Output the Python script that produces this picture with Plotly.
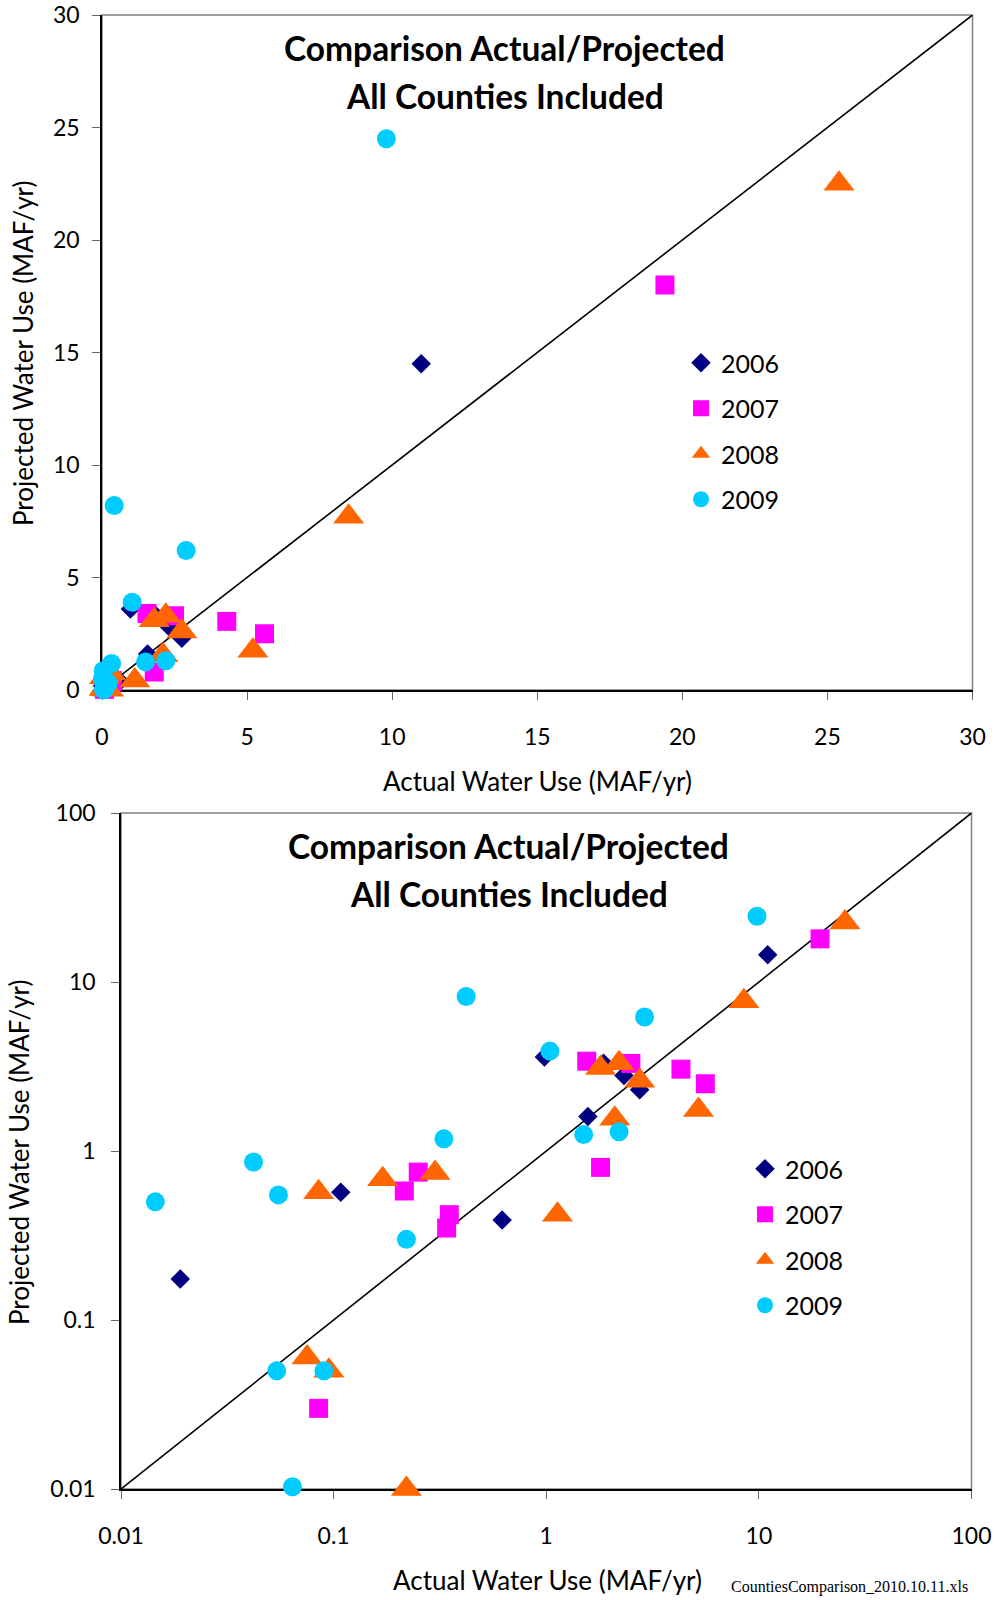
import plotly.graph_objects as go

# Actual vs projected water use (MAF/yr), one list pair per year
x_2006 = [0.019, 0.108, 0.62, 0.98, 1.57, 1.86, 2.32, 2.75, 11.0]
y_2006 = [0.175, 0.57, 0.39, 3.6, 1.6, 3.3, 2.8, 2.3, 14.5]

x_2007 = [0.085, 0.215, 0.25, 0.35, 0.34, 1.55, 2.5, 1.8, 4.3, 5.6, 19.4]
y_2007 = [0.03, 0.58, 0.75, 0.42, 0.35, 3.4, 3.3, 0.8, 3.05, 2.5, 18.0]

x_2008 = [0.22, 0.075, 0.095, 0.085, 0.17, 0.3, 1.13, 1.8, 2.2, 2.75, 2.1, 5.2, 8.5, 25.4]
y_2008 = [0.01, 0.06, 0.05, 0.57, 0.68, 0.74, 0.42, 3.1, 3.3, 2.6, 1.55, 1.75, 7.7, 22.5]

x_2009 = [0.0145, 0.042, 0.055, 0.054, 0.064, 0.09, 0.22, 0.33, 0.42, 1.04, 1.5, 2.2, 2.9, 9.8]
y_2009 = [0.5, 0.86, 0.55, 0.05, 0.0103, 0.05, 0.3, 1.18, 8.2, 3.9, 1.25, 1.3, 6.2, 24.5]

lin_ticks = [0, 5, 10, 15, 20, 25, 30]
log_ticks = [0.01, 0.1, 1, 10, 100]
log_tick_labels = ['0.01', '0.1', '1', '10', '100']

one_to_one_lin = [0, 30]
one_to_one_log = [0.01, 100]

W, H = 997, 1600
FONT = 'Lato'

series = [
    ('2006', x_2006, y_2006, dict(symbol='diamond', size=15, color='#000080')),
    ('2007', x_2007, y_2007, dict(symbol='square', size=19, color='#FF00FF')),
    ('2008', x_2008, y_2008, dict(symbol='triangle-up', size=27, color='#FF6600')),
    ('2009', x_2009, y_2009, dict(symbol='circle', size=19, color='#00CCFF')),
]


def paper_x(px):
    return px / W


def paper_y(py):
    return 1 - py / H


fig = go.Figure()

# 1:1 lines
fig.add_trace(go.Scatter(x=one_to_one_lin, y=one_to_one_lin, mode='lines',
                         line=dict(color='black', width=1.6), showlegend=False,
                         hoverinfo='skip', xaxis='x', yaxis='y'))
fig.add_trace(go.Scatter(x=one_to_one_log, y=one_to_one_log, mode='lines',
                         line=dict(color='black', width=1.6), showlegend=False,
                         hoverinfo='skip', xaxis='x2', yaxis='y2'))

# markers may spill over the axes, as in the original chart
for name, xs, ys, mk in series:
    fig.add_trace(go.Scatter(x=xs, y=ys, mode='markers', name=name,
                             marker=dict(line=dict(width=0), **mk),
                             legend='legend', legendgroup='a' + name,
                             cliponaxis=False, xaxis='x', yaxis='y'))
for name, xs, ys, mk in series:
    fig.add_trace(go.Scatter(x=xs, y=ys, mode='markers', name=name,
                             marker=dict(line=dict(width=0), **mk),
                             legend='legend2', legendgroup='b' + name,
                             cliponaxis=False, xaxis='x2', yaxis='y2'))

axis_common = dict(showgrid=False, zeroline=False, showline=True,
                   linecolor='black', linewidth=1.5, ticks='outside',
                   ticklen=8, tickcolor='#666666', tickwidth=1.2,
                   ticklabeloverflow='allow', layer='below traces',
                   tickfont=dict(family=FONT, size=23, color='black'))

legend_common = dict(font=dict(family=FONT, size=25, color='black'),
                     bgcolor='rgba(0,0,0,0)', borderwidth=0,
                     xanchor='left', yanchor='top', tracegroupgap=10,
                     itemsizing='trace')

annotations = []


def text(x, y, s, size, bold=False, angle=0, family=FONT, xanchor='center'):
    annotations.append(dict(
        x=paper_x(x), y=paper_y(y), xref='paper', yref='paper',
        text='<b>%s</b>' % s if bold else s, showarrow=False,
        textangle=angle, xanchor=xanchor, yanchor='middle',
        font=dict(family=family, size=size, color='black')))


text(504.5, 48, 'Comparison Actual/Projected', 33.5, bold=True)
text(504.5, 96, 'All Counties Included', 33.5, bold=True)
text(508.5, 846, 'Comparison Actual/Projected', 33.5, bold=True)
text(508.5, 894, 'All Counties Included', 33.5, bold=True)
text(537, 781, 'Actual Water Use (MAF/yr)', 26)
text(23, 354, 'Projected Water Use (MAF/yr)', 26, angle=-90)
text(547, 1580, 'Actual Water Use (MAF/yr)', 26)
text(19, 1153, 'Projected Water Use (MAF/yr)', 26, angle=-90)
text(970, 1587, 'CountiesComparison_2010.10.11.xls', 16,
     family='Liberation Serif', xanchor='right')

# gray plot-area border (top/right); black axis lines sit on top of it
shapes = [
    dict(type='rect', xref='x domain', yref='y domain', x0=0, x1=1, y0=0, y1=1,
         line=dict(color='#808080', width=1.5), layer='below'),
    dict(type='rect', xref='x2 domain', yref='y2 domain', x0=0, x1=1, y0=0, y1=1,
         line=dict(color='#808080', width=1.5), layer='below'),
]

fig.update_layout(
    width=W, height=H,
    margin=dict(l=0, r=0, t=0, b=0, autoexpand=False),
    paper_bgcolor='white', plot_bgcolor='white',
    xaxis=dict(domain=[paper_x(102), paper_x(972.5)], range=[0, 30],
               tickvals=lin_ticks, anchor='y', ticklabelstandoff=18,
               **axis_common),
    yaxis=dict(domain=[paper_y(690), paper_y(15)], range=[0, 30],
               tickvals=lin_ticks, anchor='x', ticklabelstandoff=8,
               **axis_common),
    xaxis2=dict(domain=[paper_x(121), paper_x(971.5)], type='log', range=[-2, 2],
                tickvals=log_ticks, ticktext=log_tick_labels, anchor='y2',
                ticklabelstandoff=18, **axis_common),
    yaxis2=dict(domain=[paper_y(1489), paper_y(813)], type='log', range=[-2, 2],
                tickvals=log_ticks, ticktext=log_tick_labels, anchor='x2',
                ticklabelstandoff=11, **axis_common),
    legend=dict(x=paper_x(681), y=paper_y(340), **legend_common),
    legend2=dict(x=paper_x(745), y=paper_y(1146), **legend_common),
    annotations=annotations,
    shapes=shapes,
)

# the page's default 8px body margin would push the figure off the window
fig.write_html("out.html", config={'displayModeBar': False},
               post_script="document.body.style.margin='0px';"
                           "document.body.style.overflow='hidden';")
